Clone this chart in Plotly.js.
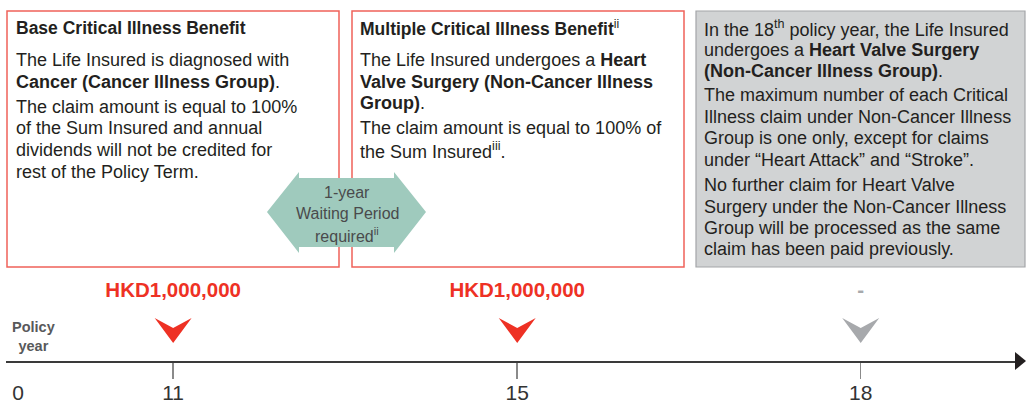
<!DOCTYPE html>
<html>
<head>
<meta charset="utf-8">
<script src="https://cdn.plot.ly/plotly-3.0.1.min.js"></script>
<style>html,body{margin:0;padding:0;background:#fff;}#chart{width:1027px;height:404px;}</style>
</head>
<body>
<div id="chart"></div>
<script>
// ---- data ----
const tickYears = [0, 11, 15, 18];
const tickSlots = [0, 1.355, 4.36, 7.36]; // schematic (non-proportional) timeline spacing
const claimYears = [11, 15, 18];
const claimAmounts = ['HKD1,000,000', 'HKD1,000,000', '-'];
const claimPaid = [true, true, false];

const box1Title = '<b>Base Critical Illness Benefit</b>';
const box1Lines = [
  'The Life Insured is diagnosed with',
  '<b>Cancer (Cancer Illness Group)</b>.',
  'The claim amount is equal to 100%',
  'of the Sum Insured and annual',
  'dividends will not be credited for',
  'rest of the Policy Term.'
];
const box2Title = '<b>Multiple Critical Illness Benefit</b><sup>ii</sup>';
const box2Lines = [
  'The Life Insured undergoes a <b>Heart</b>',
  '<b>Valve Surgery (Non-Cancer Illness</b>',
  '<b>Group)</b>.',
  'The claim amount is equal to 100% of',
  'the Sum Insured<sup>iii</sup>.'
];
const box3Lines = [
  'In the 18<sup>th</sup> policy year, the Life Insured',
  'undergoes a <b>Heart Valve Surgery</b>',
  '<b>(Non-Cancer Illness Group)</b>.',
  'The maximum number of each Critical',
  'Illness claim under Non-Cancer Illness',
  'Group is one only, except for claims',
  'under \u201cHeart Attack\u201d and \u201cStroke\u201d.',
  'No further claim for Heart Valve',
  'Surgery under the Non-Cancer Illness',
  'Group will be processed as the same',
  'claim has been paid previously.'
];
const waitingLines = ['1-year', 'Waiting Period', 'required<sup>ii</sup>'];
const axisTitle = '<b>Policy<br>year</b>';

// ---- helpers ----
const W = 1027, H = 404;
const FONT = 'Liberation Sans, Arial, Helvetica, sans-serif';
const RED = '#ee3124', GREY = '#a7a9ac', TEXT = '#231f20';
const px = v => v / W;
const py = v => 1 - v / H;
const slotOf = yr => tickSlots[tickYears.indexOf(yr)];

function pathPaper(pts) {
  return pts.map((p, i) => (i ? 'L' : 'M') + px(p[0]).toFixed(5) + ',' + py(p[1]).toFixed(5)).join(' ') + ' Z';
}

const annotations = [];
function addLine(text, x, y, opts) {
  opts = opts || {};
  annotations.push({
    xref: 'paper', yref: 'paper', x: px(x), y: py(y),
    xanchor: opts.xanchor || 'left', yanchor: 'middle', showarrow: false,
    text: text, align: opts.align || 'left',
    font: {family: FONT, size: opts.size || 18, color: opts.color || TEXT}
  });
}

// box 1
addLine(box1Title, 14, 28, {size: 17.5});
[60, 82, 107, 128, 150, 172].forEach((y, i) => addLine(box1Lines[i], 14, y));
// box 2
addLine(box2Title, 358, 28, {size: 17.5});
[60, 82, 103, 128, 150].forEach((y, i) => addLine(box2Lines[i], 358, y));
// box 3
[28, 50, 71, 95, 117, 138, 160, 185, 207, 228, 249].forEach((y, i) => addLine(box3Lines[i], 702, y));
// waiting period arrow text
[192, 213, 235].forEach((y, i) => addLine(waitingLines[i], 347, y, {xanchor: 'center', align: 'center', size: 16, color: '#4a4a4c'}));
// axis title
annotations.push({
  xref: 'paper', yref: 'paper', x: px(33), y: py(336), xanchor: 'center', yanchor: 'middle',
  showarrow: false, text: axisTitle, align: 'center',
  font: {family: FONT, size: 14.5, color: '#58595b'}
});

const shapes = [
  // boxes
  {type: 'rect', xref: 'paper', yref: 'paper', x0: px(7), x1: px(339), y0: py(11), y1: py(267),
   line: {color: '#f0625a', width: 1.5}, fillcolor: 'rgba(0,0,0,0)'},
  {type: 'rect', xref: 'paper', yref: 'paper', x0: px(352), x1: px(684), y0: py(11), y1: py(267),
   line: {color: '#f0625a', width: 1.5}, fillcolor: 'rgba(0,0,0,0)'},
  {type: 'rect', xref: 'paper', yref: 'paper', x0: px(696), x1: px(1025), y0: py(11), y1: py(267),
   line: {color: '#a3a5a8', width: 1.2}, fillcolor: '#d1d3d4'},
  // waiting period double arrow
  {type: 'path', xref: 'paper', yref: 'paper', line: {width: 0}, fillcolor: '#9fcabd',
   path: pathPaper([[267, 212], [299, 172], [299, 178], [394, 178], [394, 172], [426, 212],
                    [394, 253], [394, 247], [299, 247], [299, 253]])},
  // axis arrowhead
  {type: 'path', xref: 'paper', yref: 'paper', line: {width: 0}, fillcolor: '#231f20',
   path: pathPaper([[1015, 352], [1026, 361], [1015, 370]])}
];

// claim chevrons anchored at claim years via the x scale
claimYears.forEach((yr, i) => {
  shapes.push({
    type: 'path', xref: 'x', yref: 'y', xsizemode: 'pixel', ysizemode: 'pixel',
    xanchor: slotOf(yr), yanchor: 18,
    path: 'M0,0 L-18.5,25 L0,15 L18.5,25 Z',
    line: {width: 0}, fillcolor: claimPaid[i] ? RED : GREY
  });
});

const traces = [{
  type: 'scatter', mode: 'text',
  x: claimYears.map(slotOf), y: claimYears.map(() => 69),
  text: claimAmounts, textposition: 'middle center',
  textfont: {family: FONT, size: 20.5, weight: 'bold', color: claimPaid.map(p => p ? RED : GREY)},
  hoverinfo: 'skip', showlegend: false
}];

const unit = 114.5;
const layout = {
  width: W, height: H, margin: {l: 0, r: 0, t: 0, b: 0},
  paper_bgcolor: '#fff', plot_bgcolor: 'rgba(0,0,0,0)', showlegend: false,
  xaxis: {
    domain: [px(6), px(1016)], range: [(6 - 18) / unit, (1016 - 18) / unit],
    anchor: 'free', position: 43 / H,
    showline: true, linecolor: '#3a3a3a', linewidth: 1.6,
    showgrid: false, zeroline: false, fixedrange: true,
    tickmode: 'array', tickvals: tickSlots, ticktext: tickYears.map(String),
    ticks: 'inside', ticklen: 0, tickwidth: 0,
    minor: {tickmode: 'array', tickvals: tickSlots.slice(1), ticks: 'outside', ticklen: 16,
            tickwidth: 1.5, tickcolor: '#8a8a8a', showgrid: false},
    tickfont: {family: FONT, size: 21, color: '#333'},
    ticklabelstandoff: 12
  },
  yaxis: {domain: [0, 1], range: [-43, 361], visible: false, fixedrange: true},
  shapes: shapes,
  annotations: annotations
};

Plotly.newPlot('chart', traces, layout, {displayModeBar: false, staticPlot: true});
</script>
</body>
</html>
